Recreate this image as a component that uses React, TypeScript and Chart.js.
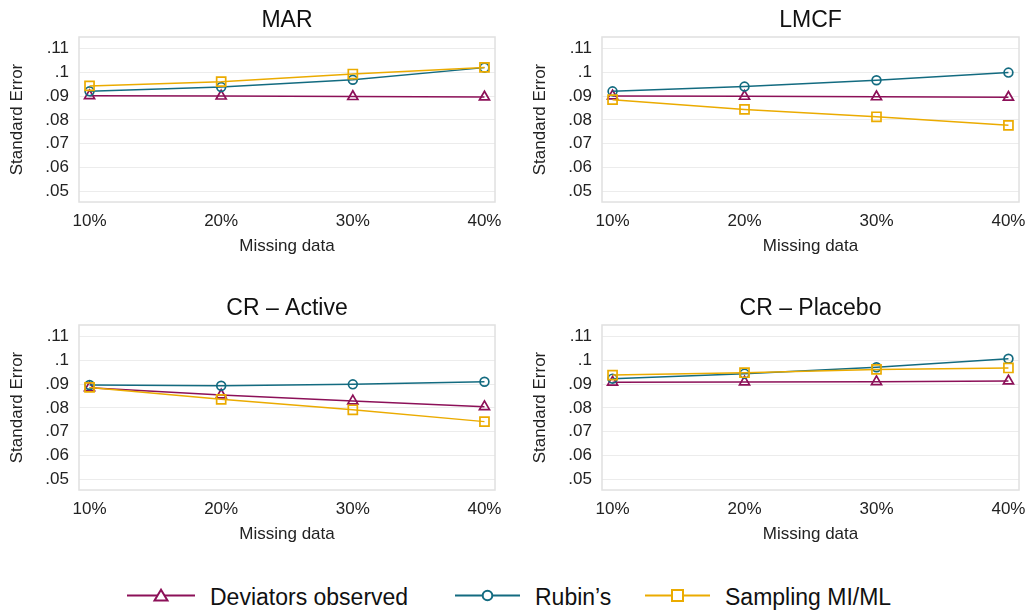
import React, { useEffect, useRef } from 'react';
import { Chart, registerables } from 'chart.js';

Chart.register(...registerables);

const FONT = '"Liberation Sans", Arial, Helvetica, sans-serif';

// ---- data ----
const missingPct = [10, 20, 30, 40];
const yTicks = [0.05, 0.06, 0.07, 0.08, 0.09, 0.1, 0.11];
const seriesNames = ['Deviators observed', 'Rubin\u2019s', 'Sampling MI/ML'];
const panelTitles = ['MAR', 'LMCF', 'CR \u2013 Active', 'CR \u2013 Placebo'];

const marDeviators = [0.0902, 0.0900, 0.0898, 0.0896];
const marRubin = [0.0920, 0.0938, 0.0969, 0.1020];
const marSampling = [0.0943, 0.0961, 0.0993, 0.1021];

const lmcfDeviators = [0.0901, 0.0899, 0.0897, 0.0895];
const lmcfRubin = [0.0920, 0.0940, 0.0967, 0.0999];
const lmcfSampling = [0.0885, 0.0844, 0.0813, 0.0777];

const activeDeviators = [0.0885, 0.0854, 0.0829, 0.0805];
const activeRubin = [0.0896, 0.0893, 0.0899, 0.0910];
const activeSampling = [0.0886, 0.0836, 0.0792, 0.0742];

const placeboDeviators = [0.0908, 0.0909, 0.0910, 0.0913];
const placeboRubin = [0.0923, 0.0944, 0.0971, 0.1007];
const placeboSampling = [0.0938, 0.0948, 0.0962, 0.0968];

// ---- styles ----
const COLORS = ['#8c1058', '#136b80', '#ebab00'];
const STYLES = ['triangle', 'circle', 'rect'];
const RADII = [5.8, 4.4, 6.4];

const framePlugin = {
  id: 'frame',
  beforeDatasetsDraw(chart: any) {
    const { ctx, chartArea: a } = chart;
    ctx.save();
    ctx.strokeStyle = '#e0e0e0';
    ctx.lineWidth = 1.5;
    ctx.strokeRect(a.left, a.top, a.right - a.left, a.bottom - a.top);
    ctx.restore();
  },
};

type PanelProps = {
  title: string;
  left: number;
  top: number;
  width: number;
  height: number;
  padRight: number;
  values: number[][];
};

function Panel({ title, left, top, width, height, padRight, values }: PanelProps) {
  const ref = useRef<HTMLCanvasElement | null>(null);
  useEffect(() => {
    if (!ref.current) return;
    const chart = new Chart(ref.current, {
      type: 'line',
      data: {
        datasets: seriesNames.map((name, k) => ({
          label: name,
          data: missingPct.map((x, i) => ({ x, y: values[k][i] })),
          borderColor: COLORS[k],
          backgroundColor: 'rgba(0,0,0,0)',
          borderWidth: 1.5,
          pointStyle: STYLES[k] as any,
          pointRadius: RADII[k],
          pointBorderWidth: 1.7,
          pointBorderColor: COLORS[k],
          pointBackgroundColor: 'rgba(0,0,0,0)',
          tension: 0,
          fill: false,
          order: 2 - k,
        })),
      },
      options: {
        animation: false,
        responsive: false,
        maintainAspectRatio: false,
        devicePixelRatio: 1,
        layout: { padding: { left: 0, right: padRight, top: 0, bottom: 0 } },
        plugins: {
          legend: { display: false },
          tooltip: { enabled: false },
          title: {
            display: true,
            text: title,
            fullSize: false,
            color: '#111',
            font: { family: FONT, size: 23, weight: 'normal', lineHeight: 1.2 },
            padding: { top: 7, bottom: 2.4 },
          },
        },
        scales: {
          x: {
            type: 'linear',
            min: 9.2,
            max: 40.8,
            afterBuildTicks: (s: any) => {
              s.ticks = missingPct.map((v) => ({ value: v }));
            },
            afterFit: (s: any) => {
              s.height = 68;
            },
            grid: { display: false },
            border: { display: false },
            ticks: {
              padding: 1,
              autoSkip: false,
              maxRotation: 0,
              color: '#222',
              font: { family: FONT, size: 17 },
              callback: (v: any) => `${v}%`,
            },
            title: {
              display: true,
              text: 'Missing data',
              color: '#222',
              font: { family: FONT, size: 17, lineHeight: 1.2 },
              padding: { top: 0, bottom: 13.5 },
            },
          },
          y: {
            type: 'linear',
            min: 0.0454,
            max: 0.1149,
            afterBuildTicks: (s: any) => {
              s.ticks = yTicks.map((v) => ({ value: v }));
            },
            afterFit: (s: any) => {
              s.width = 79;
            },
            grid: { color: '#ececec', lineWidth: 1, drawTicks: false },
            border: { display: false },
            ticks: {
              padding: 10,
              color: '#222',
              font: { family: FONT, size: 17 },
              callback: (v: any) => String(v).replace(/^0/, ''),
            },
            title: {
              display: true,
              text: 'Standard Error',
              color: '#222',
              font: { family: FONT, size: 17, lineHeight: 1.2 },
              padding: { top: 7.3, bottom: 0 },
            },
          },
        },
      } as any,
      plugins: [framePlugin],
    });
    return () => chart.destroy();
  }, [title, values, padRight]);

  return (
    <canvas
      ref={ref}
      width={width}
      height={height}
      style={{ position: 'absolute', left, top, width, height }}
    />
  );
}

function Legend() {
  const ly = 17.5;
  const ty = 26.7;
  const textStyle = { fontFamily: FONT, fontSize: 23, fill: '#111' } as any;
  return (
    <svg
      width={1034}
      height={37}
      style={{ position: 'absolute', left: 0, top: 578 }}
    >
      <line x1={127} y1={ly} x2={195} y2={ly} stroke={COLORS[0]} strokeWidth={2} />
      <polygon
        points={`161,${ly - 5.8} ${154.5},${ly + 5} ${167.5},${ly + 5}`}
        fill="#fff"
        stroke={COLORS[0]}
        strokeWidth={2}
      />
      <text x={210} y={ty} style={textStyle}>{seriesNames[0]}</text>

      <line x1={455} y1={ly} x2={520} y2={ly} stroke={COLORS[1]} strokeWidth={2} />
      <circle cx={487.5} cy={ly} r={4.8} fill="#fff" stroke={COLORS[1]} strokeWidth={2} />
      <text x={535} y={ty} style={textStyle}>{seriesNames[1]}</text>

      <line x1={645} y1={ly} x2={710} y2={ly} stroke={COLORS[2]} strokeWidth={2} />
      <rect x={672} y={ly - 5.5} width={11} height={11} fill="#fff" stroke={COLORS[2]} strokeWidth={2} />
      <text x={725} y={ty} style={textStyle}>{seriesNames[2]}</text>
    </svg>
  );
}

export default function App() {
  return (
    <div
      style={{
        position: 'absolute',
        left: 0,
        top: 0,
        width: 1034,
        height: 615,
        overflow: 'hidden',
        background: '#fff',
      }}
    >
      <Panel title={panelTitles[0]} left={0} top={0} width={517} height={270} padRight={22}
        values={[marDeviators, marRubin, marSampling]} />
      <Panel title={panelTitles[1]} left={523} top={0} width={511} height={270} padRight={15}
        values={[lmcfDeviators, lmcfRubin, lmcfSampling]} />
      <Panel title={panelTitles[2]} left={0} top={288} width={517} height={270} padRight={22}
        values={[activeDeviators, activeRubin, activeSampling]} />
      <Panel title={panelTitles[3]} left={523} top={288} width={511} height={270} padRight={15}
        values={[placeboDeviators, placeboRubin, placeboSampling]} />
      <Legend />
    </div>
  );
}
